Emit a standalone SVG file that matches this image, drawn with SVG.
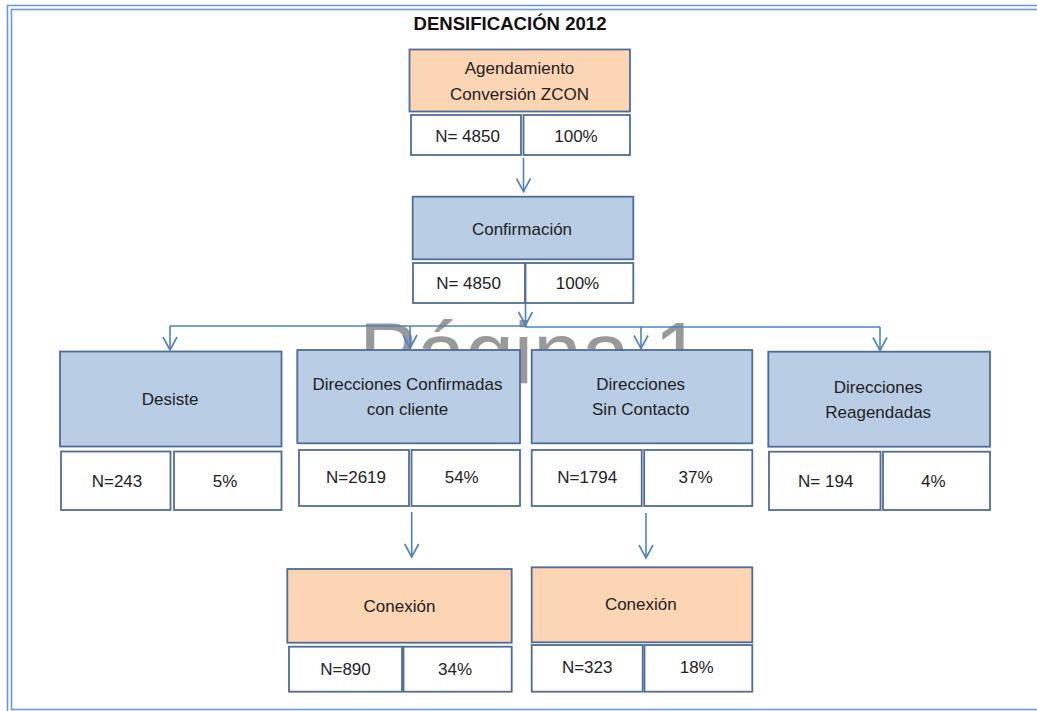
<svg xmlns="http://www.w3.org/2000/svg" width="1037" height="711" viewBox="0 0 1037 711">
  <style>
    .frame{fill:none;stroke:#6A9AD8;stroke-width:1.6}
    .blue{fill:#B9CDE5;stroke:#4F6C96;stroke-width:1.8}
    .orange{fill:#FCD5B5;stroke:#4F6C96;stroke-width:1.8}
    .cell{fill:#FFFFFF;stroke:#4F6C96;stroke-width:1.8}
    .t{font-family:"Liberation Sans",Arial,sans-serif;font-size:17px;fill:#222222;text-anchor:middle}
    .title{font-family:"Liberation Sans",Arial,sans-serif;font-size:19px;font-weight:bold;fill:#111111;text-anchor:middle}
    .wm{font-family:"Liberation Sans",Arial,sans-serif;font-size:87px;fill:#999999}
    .conn{fill:none;stroke:#4F81BD;stroke-width:1.6}
  </style>
  <defs>
    <marker id="arrow" markerUnits="userSpaceOnUse" viewBox="-15 -9 17 18" refX="0" refY="0" markerWidth="17" markerHeight="18" orient="auto">
      <path d="M-13,-7 L0,0 L-13,7" fill="none" stroke="#4F81BD" stroke-width="1.6"/>
    </marker>
  </defs>

  <rect width="1037" height="711" fill="#FFFFFF"/>

  <!-- page frame: double rule -->
  <rect class="frame" x="7.5" y="5.5" width="1040" height="720"/>
  <rect class="frame" x="11.5" y="9.5" width="1040" height="700"/>

  <!-- page watermark -->
  <text class="wm" x="359" y="383">Página 1</text>

  <text class="title" x="510" y="30" textLength="193" lengthAdjust="spacingAndGlyphs">DENSIFICACIÓN 2012</text>

  <g id="connectors">
    <path class="conn" d="M523.5,158 V191.5" marker-end="url(#arrow)"/>
    <path class="conn" d="M525.5,303.5 V325" marker-end="url(#arrow)"/>
    <path class="conn" d="M170,326 H525.5 M525.5,327 H880"/>
    <path class="conn" d="M170,326 V350" marker-end="url(#arrow)"/>
    <path class="conn" d="M410,326 V348" marker-end="url(#arrow)"/>
    <path class="conn" d="M641,327 V348.5" marker-end="url(#arrow)"/>
    <path class="conn" d="M880,327 V350.5" marker-end="url(#arrow)"/>
    <path class="conn" d="M411.7,512 V557" marker-end="url(#arrow)"/>
    <path class="conn" d="M646,513 V558" marker-end="url(#arrow)"/>
  </g>

  <g id="agendamiento">
    <rect class="orange" x="409.5" y="49.5" width="220.5" height="62"/>
    <text class="t" x="519.5" y="74">Agendamiento</text>
    <text class="t" x="519.5" y="100">Conversión ZCON</text>
    <rect class="cell" x="411" y="115" width="110" height="40"/>
    <rect class="cell" x="523.5" y="115" width="106.5" height="40"/>
    <text class="t" x="467.5" y="141.5">N= 4850</text>
    <text class="t" x="576" y="141.5">100%</text>
  </g>

  <g id="confirmacion">
    <rect class="blue" x="412.7" y="196.7" width="220.6" height="62.6"/>
    <text class="t" x="522" y="235">Confirmación</text>
    <rect class="cell" x="413" y="263" width="112" height="40"/>
    <rect class="cell" x="525.5" y="263" width="107.8" height="40"/>
    <text class="t" x="468.5" y="288.5">N= 4850</text>
    <text class="t" x="577.5" y="288.5">100%</text>
  </g>

  <g id="desiste">
    <rect class="blue" x="60" y="351.5" width="221.5" height="95"/>
    <text class="t" x="170" y="405">Desiste</text>
    <rect class="cell" x="61" y="451.5" width="109.5" height="58.5"/>
    <rect class="cell" x="174" y="451.5" width="107.5" height="58.5"/>
    <text class="t" x="117" y="486.5">N=243</text>
    <text class="t" x="225" y="486.5">5%</text>
  </g>

  <g id="confirmadas">
    <rect class="blue" x="297.3" y="350" width="222.7" height="93.3"/>
    <text class="t" x="407.5" y="390">Direcciones Confirmadas</text>
    <text class="t" x="407.5" y="415">con cliente</text>
    <rect class="cell" x="299" y="450" width="110" height="56"/>
    <rect class="cell" x="411.5" y="450" width="108.5" height="56"/>
    <text class="t" x="356" y="483.3">N=2619</text>
    <text class="t" x="461.7" y="483.3">54%</text>
  </g>

  <g id="sin-contacto">
    <rect class="blue" x="531.7" y="350" width="220.6" height="93.3"/>
    <text class="t" x="640.7" y="390">Direcciones</text>
    <text class="t" x="640.7" y="415">Sin Contacto</text>
    <rect class="cell" x="531.7" y="450" width="110" height="56"/>
    <rect class="cell" x="644.2" y="450" width="108.1" height="56"/>
    <text class="t" x="587.2" y="483.3">N=1794</text>
    <text class="t" x="695.5" y="483.3">37%</text>
  </g>

  <g id="reagendadas">
    <rect class="blue" x="768.3" y="351.7" width="221.7" height="95"/>
    <text class="t" x="878.2" y="393.3">Direcciones</text>
    <text class="t" x="878.2" y="418.3">Reagendadas</text>
    <rect class="cell" x="769" y="451.7" width="111.5" height="58.3"/>
    <rect class="cell" x="883" y="451.7" width="107" height="58.3"/>
    <text class="t" x="825.7" y="486.7">N= 194</text>
    <text class="t" x="933.3" y="486.7">4%</text>
  </g>

  <g id="conexion-confirmadas">
    <rect class="orange" x="287.3" y="569" width="224.4" height="73.7"/>
    <text class="t" x="399.5" y="611.7">Conexión</text>
    <rect class="cell" x="289" y="646.7" width="113" height="45"/>
    <rect class="cell" x="403.5" y="646.7" width="108.2" height="45"/>
    <text class="t" x="345.5" y="675">N=890</text>
    <text class="t" x="455" y="675">34%</text>
  </g>

  <g id="conexion-sin-contacto">
    <rect class="orange" x="531.7" y="567.3" width="220.6" height="75"/>
    <text class="t" x="640.8" y="610">Conexión</text>
    <rect class="cell" x="531.7" y="645" width="111" height="46.7"/>
    <rect class="cell" x="644.5" y="645" width="107.8" height="46.7"/>
    <text class="t" x="587.2" y="673.3">N=323</text>
    <text class="t" x="696.7" y="673.3">18%</text>
  </g>
</svg>
